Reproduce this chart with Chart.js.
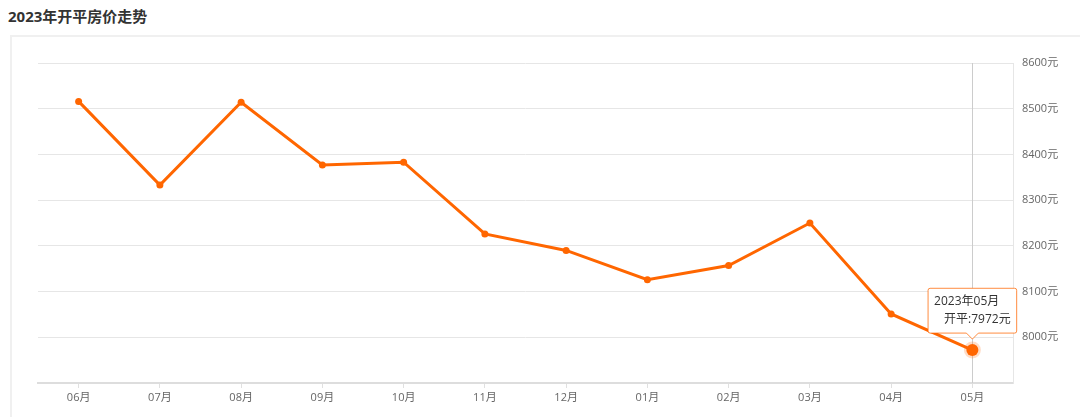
<!DOCTYPE html>
<html>
<head>
<meta charset="utf-8">
<script src="https://cdn.jsdelivr.net/npm/chart.js@4/dist/chart.umd.min.js"></script>
<style>
  html, body { margin: 0; padding: 0; background: #fff; }
  body { width: 1080px; height: 417px; position: relative; overflow: hidden; font-family: "Open Sans", "Noto Sans CJK SC", sans-serif; }
  .title { position: absolute; left: 8px; top: 5px; font-size: 15px; font-weight: bold; color: #333; }
  .box { position: absolute; left: 10px; top: 35px; width: 1100px; height: 420px; border: 2px solid #f0f0f0; box-sizing: border-box; }
  .wrap { position: absolute; left: 0; top: 0; width: 1080px; height: 417px; }
</style>
</head>
<body>
<div class="title">2023年开平房价走势</div>
<div class="box"></div>
<div class="wrap"><canvas id="chart"></canvas></div>
<script>
// 月份和房价 (元/平方米)
const months = ["06月", "07月", "08月", "09月", "10月", "11月", "12月", "01月", "02月", "03月", "04月", "05月"];
const prices = [8516, 8333, 8514, 8377, 8383, 8226, 8190, 8126, 8157, 8250, 8051, 7972];
const yTicks = [7900, 8000, 8100, 8200, 8300, 8400, 8500, 8600];
const seriesName = "开平";
const year = "2023年";
const activeIndex = 11;

const orange = "#ff6600";
const fontFamily = "'Open Sans', 'Noto Sans CJK SC', sans-serif";

// 悬停时的竖线
const crosshair = {
  id: "crosshair",
  beforeDatasetsDraw(chart) {
    const pt = chart.getDatasetMeta(0).data[activeIndex];
    if (!pt) return;
    const { top, bottom } = chart.chartArea;
    const ctx = chart.ctx;
    ctx.save();
    ctx.strokeStyle = "#cccccc";
    ctx.lineWidth = 1;
    ctx.beginPath();
    ctx.moveTo(Math.round(pt.x) + 0.5, top);
    ctx.lineTo(Math.round(pt.x) + 0.5, bottom);
    ctx.stroke();
    ctx.restore();
  },
};

const chart = new Chart(document.getElementById("chart"), {
  type: "line",
  data: {
    labels: months,
    datasets: [
      {
        label: seriesName,
        data: prices,
        borderColor: orange,
        backgroundColor: orange,
        borderWidth: 3,
        tension: 0,
        pointRadius: 3.5,
        pointBackgroundColor: orange,
        pointBorderWidth: 0,
        pointHoverRadius: 6,
        pointHoverBorderWidth: 5,
        pointHoverBackgroundColor: orange,
        pointHoverBorderColor: "rgba(255, 102, 0, 0.22)",
      },
    ],
  },
  options: {
    responsive: true,
    maintainAspectRatio: false,
    animation: false,
    events: [],
    layout: { padding: { left: 38, top: 63, right: 0, bottom: 0 } },
    plugins: {
      legend: { display: false },
      tooltip: {
        enabled: true,
        backgroundColor: "#ffffff",
        borderColor: "rgba(255, 102, 0, 0.75)",
        borderWidth: 1,
        cornerRadius: 2,
        padding: 6,
        caretSize: 6,
        caretPadding: 11,
        xAlign: "center",
        yAlign: "bottom",
        titleColor: "#333",
        bodyColor: "#333",
        titleFont: { family: fontFamily, size: 12, weight: "normal" },
        bodyFont: { family: fontFamily, size: 12 },
        titleMarginBottom: 4,
        displayColors: true,
        boxWidth: 8,
        boxHeight: 8,
        callbacks: {
          title: (items) => year + items[0].label,
          label: (ctx) => seriesName + ":" + ctx.parsed.y + "元",
          labelColor: () => ({ borderColor: "rgba(0,0,0,0)", backgroundColor: "rgba(0,0,0,0)", borderWidth: 0 }),
        },
      },
    },
    scales: {
      x: {
        offset: true,
        grid: {
          display: true,
          drawOnChartArea: false,
          drawTicks: true,
          tickLength: 5,
          color: "#e0e0e0",
        },
        border: { display: true, color: "#dddddd", width: 2 },
        ticks: {
          color: "#666",
          font: { family: fontFamily, size: 11 },
          padding: 3,
          maxRotation: 0,
        },
        afterFit: (s) => { s.height = 34; },
      },
      y: {
        position: "right",
        min: yTicks[0],
        max: yTicks[yTicks.length - 1],
        afterBuildTicks: (s) => { s.ticks = yTicks.map((v) => ({ value: v })); },
        grid: { color: "#e6e6e6", drawTicks: false },
        border: { display: true, color: "#e6e6e6", width: 1 },
        ticks: {
          color: "#666",
          font: { family: fontFamily, size: 11 },
          padding: 9,
          callback: (v) => (v === yTicks[0] ? "" : v + "元"),
        },
        afterFit: (s) => { s.width = 67; },
      },
    },
  },
  plugins: [crosshair],
});

const active = [{ datasetIndex: 0, index: activeIndex }];
const pt = chart.getDatasetMeta(0).data[activeIndex];
chart.setActiveElements(active);
chart.tooltip.setActiveElements(active, { x: pt.x, y: pt.y });
chart.update();
</script>
</body>
</html>
